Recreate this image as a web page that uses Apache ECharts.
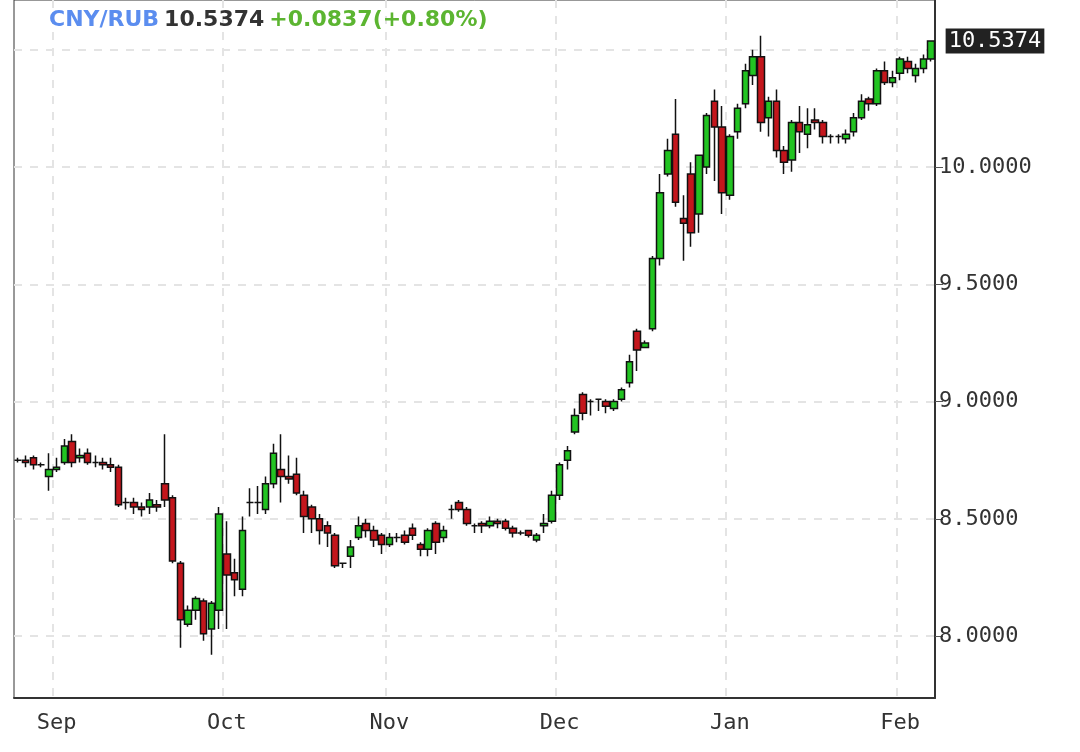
<!DOCTYPE html>
<html lang="en">
<head>
    <meta charset="UTF-8">
    <title>CNY/RUB</title>
    <script src="https://cdn.jsdelivr.net/npm/echarts@6/dist/echarts.min.js"></script>
    <style>body{margin:0;background:#fff}</style>
</head>
<body>
    <div id="main" style="width:1080px; height:752px;"></div>
    <script>
        // daily candles: [open, close, low, high]
        const candles = [
            [8.75,8.75,8.74,8.76],[8.75,8.74,8.72,8.77],[8.76,8.73,8.71,8.77],[8.73,8.73,8.72,8.74],[8.68,8.71,8.62,8.78],
            [8.71,8.72,8.70,8.76],[8.74,8.81,8.73,8.84],[8.83,8.74,8.72,8.86],[8.76,8.77,8.74,8.80],[8.78,8.74,8.73,8.80],
            [8.74,8.74,8.72,8.77],[8.74,8.73,8.71,8.76],[8.73,8.72,8.70,8.76],[8.72,8.56,8.55,8.73],[8.57,8.57,8.54,8.59],
            [8.57,8.55,8.52,8.59],[8.55,8.54,8.51,8.57],[8.55,8.58,8.52,8.61],[8.56,8.55,8.53,8.58],[8.65,8.58,8.55,8.86],
            [8.59,8.32,8.31,8.60],[8.31,8.07,7.95,8.32],[8.05,8.11,8.04,8.13],[8.11,8.16,8.07,8.17],[8.15,8.01,7.98,8.16],
            [8.03,8.14,7.92,8.15],[8.11,8.52,8.03,8.55],[8.35,8.26,8.03,8.49],[8.27,8.24,8.17,8.33],[8.20,8.45,8.17,8.51],
            [8.57,8.57,8.51,8.63],[8.57,8.57,8.52,8.64],[8.54,8.65,8.52,8.68],[8.65,8.78,8.63,8.82],[8.71,8.68,8.57,8.86],
            [8.68,8.67,8.65,8.77],[8.69,8.61,8.60,8.76],[8.60,8.51,8.44,8.62],[8.55,8.50,8.44,8.56],[8.50,8.45,8.39,8.52],
            [8.47,8.44,8.38,8.49],[8.43,8.30,8.29,8.44],[8.31,8.31,8.29,8.31],[8.34,8.38,8.29,8.41],[8.42,8.47,8.41,8.51],
            [8.48,8.45,8.42,8.50],[8.45,8.41,8.38,8.47],[8.43,8.39,8.35,8.44],[8.39,8.42,8.38,8.44],[8.42,8.42,8.40,8.44],
            [8.43,8.40,8.39,8.45],[8.46,8.43,8.41,8.48],[8.39,8.37,8.34,8.40],[8.37,8.45,8.34,8.46],[8.48,8.40,8.35,8.49],
            [8.42,8.45,8.40,8.47],[8.54,8.54,8.50,8.56],[8.57,8.54,8.53,8.58],[8.54,8.48,8.47,8.55],[8.47,8.47,8.44,8.48],
            [8.48,8.47,8.44,8.49],[8.47,8.49,8.46,8.51],[8.49,8.48,8.46,8.50],[8.49,8.46,8.45,8.50],[8.46,8.44,8.42,8.47],
            [8.44,8.44,8.43,8.45],[8.45,8.43,8.42,8.45],[8.41,8.43,8.40,8.44],[8.47,8.48,8.44,8.52],[8.49,8.60,8.48,8.62],
            [8.60,8.73,8.58,8.74],[8.75,8.79,8.71,8.81],[8.87,8.94,8.86,8.97],[9.03,8.95,8.92,9.04],[9.00,9.00,8.94,9.01],
            [9.01,9.01,8.96,9.01],[9.00,8.98,8.95,9.01],[8.97,9.00,8.96,9.01],[9.01,9.05,9.00,9.06],[9.08,9.17,9.06,9.20],
            [9.30,9.22,9.13,9.31],[9.23,9.25,9.23,9.26],[9.31,9.61,9.30,9.62],[9.61,9.89,9.58,9.97],[9.97,10.07,9.96,10.12],
            [10.14,9.85,9.83,10.29],[9.78,9.76,9.60,9.88],[9.97,9.72,9.66,10.02],[9.80,10.05,9.72,10.05],[10.00,10.22,9.97,10.23],
            [10.28,10.17,9.94,10.33],[10.17,9.89,9.80,10.26],[9.88,10.13,9.86,10.14],[10.15,10.25,10.12,10.27],[10.27,10.41,10.25,10.44],
            [10.39,10.47,10.35,10.50],[10.47,10.19,10.15,10.56],[10.21,10.28,10.13,10.30],[10.28,10.07,10.04,10.33],[10.07,10.02,9.97,10.09],
            [10.03,10.19,9.98,10.20],[10.19,10.15,10.06,10.26],[10.14,10.18,10.08,10.25],[10.20,10.19,10.16,10.25],[10.19,10.13,10.10,10.20],
            [10.13,10.13,10.10,10.14],[10.13,10.13,10.10,10.14],[10.12,10.14,10.10,10.16],[10.15,10.21,10.13,10.23],[10.21,10.28,10.20,10.31],
            [10.29,10.27,10.24,10.30],[10.27,10.41,10.26,10.42],[10.41,10.36,10.35,10.45],[10.36,10.38,10.34,10.41],[10.40,10.46,10.37,10.47],
            [10.45,10.42,10.40,10.47],[10.39,10.42,10.36,10.44],[10.42,10.46,10.40,10.48],[10.46,10.5374,10.45,10.54]
        ];
        const yTicks = [8.0, 8.5, 9.0, 9.5, 10.0];
        const gridLevels = [8.0, 8.5, 9.0, 9.5, 10.0, 10.5];
        const lastPrice = 10.5374;
        const change = '+0.0837(+0.80%)';
        const monthNames = ['Jan','Feb','Mar','Apr','May','Jun','Jul','Aug','Sep','Oct','Nov','Dec'];

        // trading days (weekdays) starting 2022-08-25
        const dates = [];
        let d = new Date(2022, 7, 25);
        while (dates.length < candles.length) {
            if (d.getDay() !== 0 && d.getDay() !== 6) dates.push(new Date(d));
            d.setDate(d.getDate() + 1);
        }
        const cats = dates.map(x => x.getFullYear() + '-' + (x.getMonth() + 1) + '-' + x.getDate());
        const isMonthStart = i => i > 0 && dates[i].getMonth() !== dates[i - 1].getMonth();

        const chart = echarts.init(document.getElementById('main'));
        const font = 'DejaVu Sans Mono';
        chart.setOption({
            animation: false,
            backgroundColor: '#fff',
            title: {
                left: 44, top: 4,
                text: '{a|CNY/RUB} {b|' + lastPrice.toFixed(4) + '} {c|' + change + '}',
                textStyle: {
                    rich: {
                        a: {color: '#5b8def', fontSize: 22, fontWeight: 'bold', fontFamily: 'DejaVu Sans'},
                        b: {color: '#333', fontSize: 22, fontWeight: 'bold', fontFamily: 'DejaVu Sans'},
                        c: {color: '#5cb531', fontSize: 22, fontWeight: 'bold', fontFamily: 'DejaVu Sans'}
                    }
                }
            },
            grid: {left: 14, right: 145, top: 0, bottom: 54, show: true, borderColor: '#333', borderWidth: 1, backgroundColor: '#fff'},
            xAxis: {
                type: 'category',
                data: cats,
                boundaryGap: true,
                axisLine: {lineStyle: {color: '#333', width: 2}},
                axisTick: {interval: i => isMonthStart(i), alignWithLabel: true, length: 8, lineStyle: {color: '#555'}},
                axisLabel: {
                    interval: i => isMonthStart(i),
                    formatter: (v, i) => monthNames[dates[i].getMonth()],
                    fontFamily: font, fontSize: 22, color: '#333', margin: 14
                },
                splitLine: {show: true, interval: i => isMonthStart(i), lineStyle: {color: '#e4e4e4', type: [8, 8], width: 2}}
            },
            yAxis: {
                type: 'value',
                position: 'right',
                min: 7.736, max: 10.712,
                axisLine: {show: true, lineStyle: {color: '#333', width: 2}},
                axisTick: {show: true, customValues: yTicks, length: 8, lineStyle: {color: '#555'}},
                axisLabel: {customValues: yTicks, formatter: v => v.toFixed(4), fontFamily: font, fontSize: 22, color: '#333', margin: 4},
                splitLine: {show: false}
            },
            series: [{
                type: 'candlestick',
                data: candles,
                barWidth: 7,
                z: 5,
                itemStyle: {color: '#22c422', color0: '#c4161c', borderColor: '#111', borderColor0: '#111', borderWidth: 1.5},
                markLine: {
                    silent: true,
                    z: 1,
                    symbol: 'none',
                    label: {show: false},
                    lineStyle: {color: '#e4e4e4', type: [8, 8], width: 2},
                    data: gridLevels.map(v => ({yAxis: v}))
                },
                markPoint: {
                    silent: true,
                    symbol: 'rect',
                    symbolSize: 1,
                    itemStyle: {color: 'rgba(0,0,0,0)'},
                    data: [{coord: [cats.length - 1, lastPrice]}],
                    label: {
                        show: true, position: 'right', distance: 14,
                        formatter: lastPrice.toFixed(4), backgroundColor: '#222', color: '#fff',
                        fontFamily: font, fontSize: 22, padding: [2, 3, 1, 3]
                    }
                }
            }]
        });
    </script>
</body>
</html>
